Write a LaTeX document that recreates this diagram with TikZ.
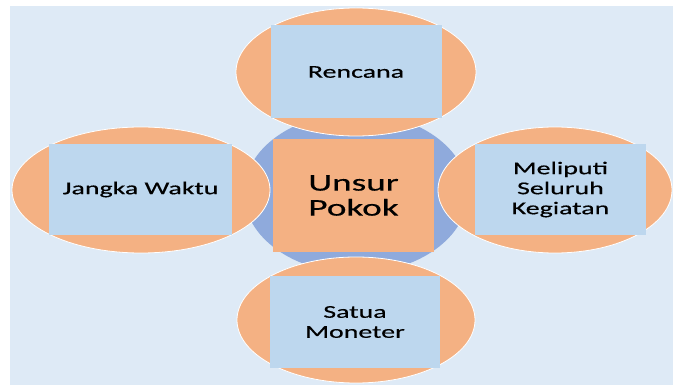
\documentclass[tikz,border=0pt]{standalone}
\usepackage{fontspec}
\setmainfont{Carlito}
\newfontfamily\widefont[FakeStretch=1.55, FakeBold=0.4]{Carlito}
\usepackage{xcolor}
\usepackage{tikz}
\usetikzlibrary{shapes, positioning}

\definecolor{bgblue}{HTML}{DEEAF6}
\definecolor{petalorange}{HTML}{F4B183}
\definecolor{boxblue}{HTML}{BDD7EE}
\definecolor{hubblue}{HTML}{8FAADC}

\begin{document}
\begin{tikzpicture}[x=1pt, y=-1pt,
  petal/.style={ellipse, fill=petalorange, draw=white, line width=0.8pt, inner sep=0pt},
  label box/.style={rectangle, fill=boxblue, inner sep=0pt, align=center,
    font=\widefont\fontsize{18}{20}\selectfont}]
  \useasboundingbox (0,0) rectangle (673,385);
  \fill[bgblue] (10,6) rectangle (673,385);

  % hub in the middle
  \node[ellipse, fill=hubblue, inner sep=0pt, minimum width=224pt, minimum height=160pt] (hub) at (356,193) {};
  \node[rectangle, fill=petalorange, inner sep=0pt, align=center, minimum width=161pt, minimum height=113pt,
    font=\widefont\fontsize{24}{25}\selectfont] (pokok) at (353.5,195.5) {Unsur\\Pokok};

  % four petals round it
  \node[petal, minimum width=240pt, minimum height=128pt] (top) at (356,72) {};
  \node[petal, minimum width=258pt, minimum height=126pt] (left) at (141,190) {};
  \node[petal, minimum width=234pt, minimum height=126pt] (right) at (555,190) {};
  \node[petal, minimum width=238pt, minimum height=126pt] (bottom) at (356,320) {};

  \node[label box, minimum width=171pt, minimum height=93pt] (rencana) at (top.center) {Rencana};
  \node[label box, minimum width=183pt, minimum height=91pt] (waktu) at (140.5,189.5) {Jangka Waktu};
  \node[label box, minimum width=171pt, minimum height=91pt] (kegiatan) at (560.5,189.5) {Meliputi\\Seluruh\\Kegiatan};
  \node[label box, minimum width=170pt, minimum height=92pt] (moneter) at (355,322) {Satua\\Moneter};
\end{tikzpicture}
\end{document}
